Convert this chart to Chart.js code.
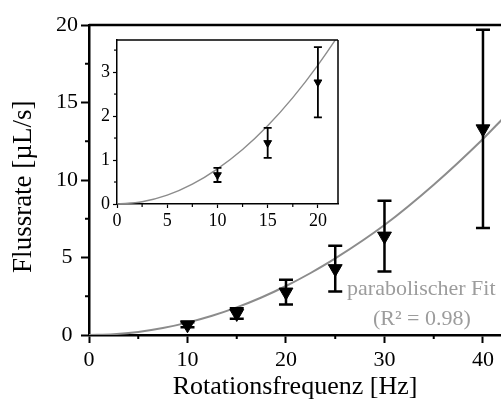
<!DOCTYPE html>
<html>
<head>
<meta charset="utf-8">
<script src="https://cdn.jsdelivr.net/npm/chart.js@4.4.0/dist/chart.umd.min.js"></script>
<style>
  html, body { margin: 0; padding: 0; background: #fff; }
  #wrap { position: relative; width: 501px; height: 406px; overflow: hidden; }
  #main { position: absolute; left: 0; top: 0; }
  #inset { position: absolute; left: 90px; top: 30px; }
</style>
</head>
<body>
<div id="wrap">
  <canvas id="main" width="501" height="406"></canvas>
  <canvas id="inset" width="254" height="206"></canvas>
</div>
<script>
// measured flow rates with error bars
const frequency = [10, 15, 20, 25, 30, 40];
const flowRate = [0.66, 1.39, 2.77, 4.28, 6.38, 13.3];
const flowErr = [0.16, 0.34, 0.8, 1.48, 2.28, 6.4];

// parabolic fit curve
const fitFreq = [0, 2.5, 5, 7.5, 10, 12.5, 15, 17.5, 20, 22.5, 25, 30, 35, 40, 42];
const fitRate = [0, 0.05, 0.2, 0.45, 0.8, 1.24, 1.78, 2.42, 3.16, 4.0, 4.94, 7.1, 9.7, 12.65, 13.95];

const fitLabel = "parabolischer Fit";
const fitR2 = "(R\u00B2 = 0.98)";

const SERIF = "'Liberation Serif', 'DejaVu Serif', serif";
const FIT_GREY = "#8c8c8c";
const TEXT_GREY = "#9c9c9c";

// vertical error bars with caps, drawn through the chart's own scales
const errorBars = {
  id: "errorBars",
  afterDatasetsDraw(chart, args, opts) {
    const ctx = chart.ctx;
    const xs = chart.scales.x, ys = chart.scales.y;
    chart.data.datasets.forEach((ds) => {
      if (!ds.errors) return;
      ctx.save();
      ctx.strokeStyle = "#000";
      ctx.lineWidth = opts.lineWidth;
      ds.data.forEach((p, i) => {
        const e = ds.errors[i];
        const px = xs.getPixelForValue(p.x);
        const top = ys.getPixelForValue(p.y + e);
        const bot = ys.getPixelForValue(p.y - e);
        const c = opts.capWidth / 2;
        ctx.beginPath();
        ctx.moveTo(px, top); ctx.lineTo(px, bot);
        ctx.moveTo(px - c, top); ctx.lineTo(px + c, top);
        ctx.moveTo(px - c, bot); ctx.lineTo(px + c, bot);
        ctx.stroke();
      });
      ctx.restore();
    });
  }
};

// short minor ticks half way between the major ones
const minorTicks = {
  id: "minorTicks",
  afterDraw(chart, args, opts) {
    const ctx = chart.ctx;
    const area = chart.chartArea;
    ctx.save();
    ctx.strokeStyle = "#000";
    ctx.lineWidth = opts.width;
    ["x", "y"].forEach((id) => {
      const s = chart.scales[id];
      const t = s.ticks;
      if (t.length < 2) return;
      const step = t[1].value - t[0].value;
      t.forEach((tk) => {
        const v = tk.value + step / 2;
        if (v > s.max) return;
        const p = s.getPixelForValue(v);
        ctx.beginPath();
        if (id === "x") {
          ctx.moveTo(p, area.bottom); ctx.lineTo(p, area.bottom + opts.length);
        } else {
          ctx.moveTo(area.left, p); ctx.lineTo(area.left - opts.length, p);
        }
        ctx.stroke();
      });
    });
    ctx.restore();
  }
};

// top (and right) edges of the plot box
const frame = {
  id: "frame",
  beforeDraw(chart, args, opts) {
    const a = chart.chartArea;
    const ctx = chart.ctx;
    if (opts.fill) {
      ctx.save();
      ctx.fillStyle = opts.fill;
      ctx.fillRect(a.left, a.top, a.right - a.left, a.bottom - a.top);
      ctx.restore();
    }
  },
  afterDraw(chart, args, opts) {
    const a = chart.chartArea;
    const ctx = chart.ctx;
    ctx.save();
    ctx.strokeStyle = "#000";
    ctx.lineWidth = opts.width;
    ctx.beginPath();
    ctx.moveTo(a.left, a.top); ctx.lineTo(a.right, a.top);
    if (opts.right) { ctx.moveTo(a.right, a.top); ctx.lineTo(a.right, a.bottom); }
    ctx.stroke();
    ctx.restore();
  }
};

// grey fit caption
const fitText = {
  id: "fitText",
  afterDraw(chart, args, opts) {
    const ctx = chart.ctx;
    const xs = chart.scales.x, ys = chart.scales.y;
    ctx.save();
    ctx.fillStyle = TEXT_GREY;
    ctx.font = "22px " + SERIF;
    ctx.textBaseline = "middle";
    ctx.textAlign = "left";
    ctx.fillText(fitLabel, xs.getPixelForValue(26.2), ys.getPixelForValue(2.97));
    ctx.textAlign = "center";
    ctx.fillText(fitR2, xs.getPixelForValue(33.8), ys.getPixelForValue(1.05));
    ctx.restore();
  }
};

function points(n) {
  return frequency.slice(0, n).map((f, i) => ({ x: f, y: flowRate[i] }));
}
function fitPoints(maxX) {
  const out = [];
  fitFreq.forEach((f, i) => { if (f <= maxX) out.push({ x: f, y: fitRate[i] }); });
  return out;
}

function axis(opts) {
  return {
    type: "linear",
    min: opts.min,
    max: opts.max,
    afterFit: (s) => {
      // no extra room for the edge labels, the layout padding handles that
      s.paddingLeft = 0; s.paddingRight = 0; s.paddingTop = 0; s.paddingBottom = 0;
      opts.afterFit(s);
    },
    border: { display: true, color: "#000", width: opts.axisWidth },
    grid: {
      display: true,
      drawOnChartArea: false,
      drawTicks: true,
      tickLength: opts.tickLength,
      tickWidth: opts.tickWidth,
      tickColor: "#000"
    },
    ticks: {
      stepSize: opts.step,
      includeBounds: false,
      color: "#000",
      padding: opts.pad,
      maxRotation: 0,
      autoSkip: false,
      crossAlign: opts.crossAlign || "near",
      font: { family: SERIF, size: opts.fontSize }
    },
    title: opts.title ? {
      display: true,
      text: opts.title,
      color: "#000",
      padding: opts.titlePad,
      font: { family: SERIF, size: opts.titleSize }
    } : { display: false }
  };
}

// main chart
new Chart(document.getElementById("main"), {
  type: "scatter",
  data: {
    datasets: [
      {
        data: points(frequency.length),
        errors: flowErr,
        pointStyle: "triangle",
        rotation: 180,
        radius: 8,
        backgroundColor: "#000",
        borderColor: "#000",
        borderWidth: 1,
        showLine: false
      },
      {
        data: fitPoints(99),
        showLine: true,
        borderColor: FIT_GREY,
        borderWidth: 2,
        pointRadius: 0,
        cubicInterpolationMode: "monotone"
      }
    ]
  },
  options: {
    responsive: false,
    animation: false,
    layout: { autoPadding: false, padding: { top: 25, right: 0, left: 0, bottom: 0 } },
    plugins: {
      legend: { display: false },
      tooltip: { enabled: false },
      errorBars: { lineWidth: 2.5, capWidth: 14 },
      minorTicks: { length: 4, width: 2 },
      frame: { width: 2.5, right: false }
    },
    scales: {
      x: axis({
        min: 0, max: 41.83, step: 10, axisWidth: 2.5, tickLength: 8, tickWidth: 2,
        pad: 4, fontSize: 22, title: "Rotationsfrequenz [Hz]", titleSize: 26,
        titlePad: { top: 0, bottom: 3 },
        afterFit: (s) => { s.height = 71; }
      }),
      y: axis({
        min: 0, max: 20, step: 5, axisWidth: 2.5, tickLength: 8, tickWidth: 2,
        pad: 3, fontSize: 22, crossAlign: "center", title: "Flussrate [\u00B5L/s]  ", titleSize: 27,
        titlePad: { top: 8, bottom: 0 },
        afterFit: (s) => { s.width = 89; }
      })
    }
  },
  plugins: [frame, errorBars, minorTicks, fitText]
});

// inset: the low frequency points
const insetCount = frequency.filter((f) => f <= 20).length;
new Chart(document.getElementById("inset"), {
  type: "scatter",
  data: {
    datasets: [
      {
        data: points(insetCount),
        errors: flowErr.slice(0, insetCount),
        pointStyle: "triangle",
        rotation: 180,
        radius: 4.5,
        backgroundColor: "#000",
        borderColor: "#000",
        borderWidth: 1,
        showLine: false
      },
      {
        data: fitPoints(25),
        showLine: true,
        borderColor: FIT_GREY,
        borderWidth: 1.4,
        pointRadius: 0,
        cubicInterpolationMode: "monotone"
      }
    ]
  },
  options: {
    responsive: false,
    animation: false,
    layout: { autoPadding: false, padding: { top: 10, right: 6, left: 0, bottom: 0 } },
    plugins: {
      legend: { display: false },
      tooltip: { enabled: false },
      errorBars: { lineWidth: 1.8, capWidth: 8 },
      minorTicks: { length: 3, width: 1.2 },
      frame: { width: 1.5, right: true, fill: "#fff" }
    },
    scales: {
      x: axis({
        min: 0, max: 22, step: 5, axisWidth: 1.5, tickLength: 4, tickWidth: 1.2,
        pad: 2, fontSize: 18, afterFit: (s) => { s.height = 32; }
      }),
      y: axis({
        min: 0, max: 3.73, step: 1, axisWidth: 1.5, tickLength: 4, tickWidth: 1.2,
        pad: 3, fontSize: 18, afterFit: (s) => { s.width = 27; }
      })
    }
  },
  plugins: [frame, errorBars, minorTicks]
});
</script>
</body>
</html>
